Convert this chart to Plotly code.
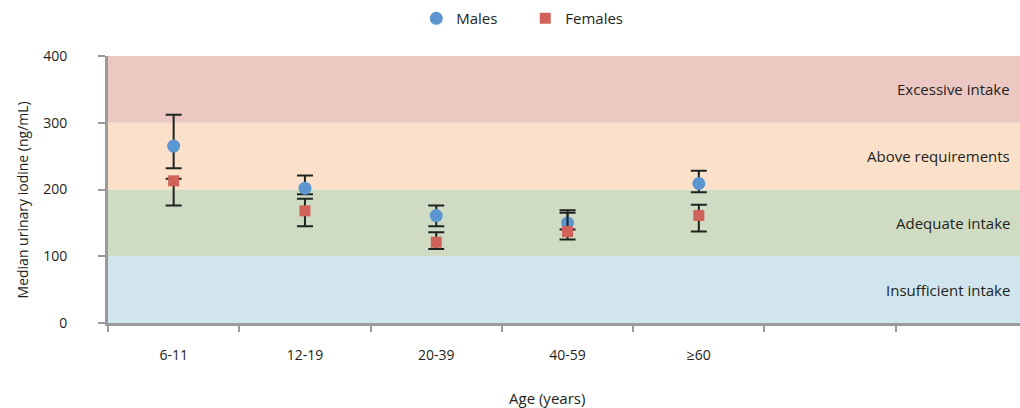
import plotly.graph_objects as go

# ---- data ----
age_groups = ["6-11", "12-19", "20-39", "40-59", "\u226560"]
males = [265, 202, 161, 150, 209]
males_upper = [312, 221, 176, 169, 228]
males_lower = [232, 193, 145, 140, 196]
females = [213, 168, 121, 137, 161]
females_upper = [216, 186, 136, 165, 177]
females_lower = [176, 145, 111, 125, 137]
band_edges = [0, 100, 200, 300, 400]
band_labels = ["Insufficient intake", "Adequate intake", "Above requirements", "Excessive intake"]
y_ticks = [0, 100, 200, 300, 400]

band_colors = ["#d0e5ed", "#d0dbc4", "#fce1ca", "#ecc8c3"]
FONT = "Open Sans"
TXT = "#231f20"

xs = list(range(len(age_groups)))

fig = go.Figure()

fig.add_trace(go.Scatter(
    x=xs, y=males, mode="markers", name="Males",
    marker=dict(symbol="circle", size=13, color="#5b96d0"),
    error_y=dict(type="data", symmetric=False,
                 array=[u - v for u, v in zip(males_upper, males)],
                 arrayminus=[v - l for v, l in zip(males, males_lower)],
                 color="#1e2420", thickness=2, width=8),
))
fig.add_trace(go.Scatter(
    x=xs, y=females, mode="markers", name="Females",
    marker=dict(symbol="square", size=11, color="#d0625a"),
    error_y=dict(type="data", symmetric=False,
                 array=[u - v for u, v in zip(females_upper, females)],
                 arrayminus=[v - l for v, l in zip(females, females_lower)],
                 color="#1e2420", thickness=2, width=8),
))

for i, lab in enumerate(band_labels):
    fig.add_shape(type="rect", xref="paper", yref="y", x0=0, x1=1,
                  y0=band_edges[i], y1=band_edges[i + 1],
                  fillcolor=band_colors[i], line_width=0, layer="below")
    fig.add_annotation(xref="paper", yref="y", x=0.991, xanchor="right",
                       y=(band_edges[i] + band_edges[i + 1]) / 2, yanchor="middle",
                       text=lab, showarrow=False,
                       font=dict(family=FONT, size=15, color=TXT))

fig.add_annotation(xref="paper", yref="paper", x=0.481, y=-0.28, yanchor="middle",
                   text="Age (years)", showarrow=False,
                   font=dict(family=FONT, size=15, color=TXT))
fig.add_annotation(xref="paper", yref="paper", x=-0.094, xanchor="center",
                   y=0.46, yanchor="middle", textangle=-90,
                   text="Median urinary iodine (ng/mL)", showarrow=False,
                   font=dict(family=FONT, size=14, color=TXT))

fig.update_layout(
    width=1020, height=408,
    margin=dict(l=108, r=0, t=56, b=85),
    paper_bgcolor="white", plot_bgcolor="white",
    font=dict(family=FONT, size=14, color=TXT),
    showlegend=True,
    legend=dict(orientation="h", x=0.338, xanchor="left", y=1.14, yanchor="middle",
                font=dict(family=FONT, size=15, color=TXT), itemwidth=30,
                entrywidth=64, entrywidthmode="pixels",
                bgcolor="rgba(0,0,0,0)"),
    xaxis=dict(range=[-0.5, 6.446], tickmode="array", tickvals=xs, ticktext=age_groups,
               ticks="", ticklabelstandoff=17, showgrid=False, zeroline=False,
               showline=True, linecolor="#9a9a9a", linewidth=3,
               minor=dict(tickmode="linear", tick0=-0.5, dtick=1, ticks="outside",
                          ticklen=6, tickcolor="#9a9a9a", tickwidth=2, showgrid=False),
               tickfont=dict(family=FONT, size=14, color=TXT)),
    yaxis=dict(range=[0, 400], tickmode="array", tickvals=y_ticks,
               ticks="outside", ticklen=7, tickcolor="#9a9a9a", tickwidth=2,
               ticklabelstandoff=28, showgrid=False, zeroline=False,
               showline=True, linecolor="#9a9a9a", linewidth=3,
               tickfont=dict(family=FONT, size=14, color=TXT)),
)

fig.write_html("out.html", config={"displayModeBar": False},
               post_script="document.body.style.margin='0px';document.body.style.overflow='hidden';")
